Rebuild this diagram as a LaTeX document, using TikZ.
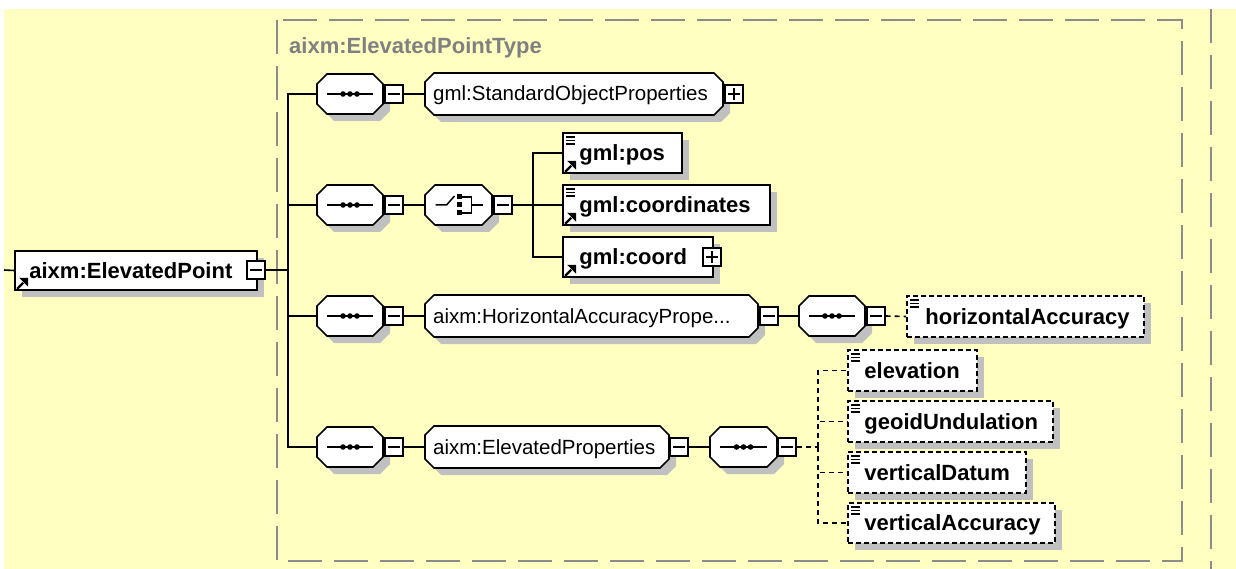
\documentclass[tikz,border=0pt]{standalone}
\usepackage{fontspec}
\setmainfont{Liberation Sans}
\usetikzlibrary{shadows}

\definecolor{bgyellow}{RGB}{255,255,194}
\definecolor{shadowgray}{RGB}{192,192,192}
\definecolor{framegray}{RGB}{140,140,140}
\definecolor{titlegray}{RGB}{128,128,128}

\tikzset{
  wire/.style={line width=1.6pt},
  optwire/.style={line width=1.6pt, dash pattern=on 5pt off 4pt},
  outline/.style={draw=black, line width=1.6pt, fill=white},
  boxshadow/.style={drop shadow={shadow xshift=7pt, shadow yshift=-7pt, fill=shadowgray, opacity=1}},
  elembox/.style={rectangle, outline, inner sep=0pt, boxshadow},
  optbox/.style={elembox, dash pattern=on 5pt off 3pt},
  anchorbox/.style={rectangle, inner sep=0pt, outer sep=0pt},
  btn/.style={rectangle, draw=black, fill=white, line width=1.4pt, inner sep=0pt, minimum size=18pt},
  btnmark/.style={line width=1.4pt},
  iconline/.style={line width=1.5pt},
  elemtext/.style={inner sep=0pt, font=\fontsize{22}{26}\selectfont\bfseries},
  grptext/.style={inner sep=0pt, font=\fontsize{20.5}{24}\selectfont},
  titletext/.style={inner sep=0pt, text=titlegray, font=\fontsize{22}{26}\selectfont\bfseries},
  frame/.style={draw=framegray, line width=1.6pt, dash pattern=on 34pt off 12pt},
}

% chamfered box (sequence, choice, group) with its shadow and a named node over it
\newcommand\octo[6]{%
  \fill[shadowgray, shift={(7,7)}] (#2,#3+#6) -- (#2+#6,#3) -- (#4-#6,#3) -- (#4,#3+#6)
      -- (#4,#5-#6) -- (#4-#6,#5) -- (#2+#6,#5) -- (#2,#5-#6) -- cycle;
  \draw[outline] (#2,#3+#6) -- (#2+#6,#3) -- (#4-#6,#3) -- (#4,#3+#6)
      -- (#4,#5-#6) -- (#4-#6,#5) -- (#2+#6,#5) -- (#2,#5-#6) -- cycle;
  \node[anchorbox, minimum width={#4-#2}, minimum height={#5-#3}] (#1) at ({(#2+#4)/2},{(#3+#5)/2}) {};
}
% element box
\newcommand\elem[6]{%
  \node[#6, minimum width={#4-#2}, minimum height={#5-#3}] (#1) at ({(#2+#4)/2},{(#3+#5)/2}) {};
}
\newcommand\elemlabel[3]{%
  \node[elemtext, anchor=base west] (#1-t) at ([shift={(#3,7.5)}]#1.west) {#2};
}
% expand / collapse buttons
\newcommand\minusbtn[3]{%
  \node[btn] (#1) at (#2,#3) {};
  \draw[btnmark] ([xshift=4pt]#1.west) -- ([xshift=-4pt]#1.east);
}
\newcommand\plusbtn[3]{%
  \minusbtn{#1}{#2}{#3}
  \draw[btnmark] ([yshift=4pt]#1.south) -- ([yshift=-4pt]#1.north);
}
% sequence compositor glyph
\newcommand\seqmark[1]{%
  \draw[iconline] ([xshift=10pt]#1.west) -- ([xshift=-10pt]#1.east);
  \foreach \k in {-7,0,7}
    \fill ([shift={(\k,0)}]#1.center) circle[radius=2.8pt];
}
% choice compositor glyph
\newcommand\choicemark[1]{%
  \draw[iconline] ([xshift=-23pt]#1.center) -- ([xshift=-12pt]#1.center) -- ([shift={(-4,-9)}]#1.center);
  \foreach \k in {-8,0,8}
    \fill ([shift={(-2,\k-2.5)}]#1.center) rectangle ([shift={(3,\k+2.5)}]#1.center);
  \draw[iconline] ([shift={(3,-8)}]#1.center) -- ([shift={(13,-8)}]#1.center)
      -- ([shift={(13,8)}]#1.center) -- ([shift={(3,8)}]#1.center);
  \draw[iconline] ([shift={(13,0)}]#1.center) -- ([shift={(24,0)}]#1.center);
}
% reference arrow (bottom left) and simple-content glyph (top left)
\newcommand\refmark[1]{%
  \draw[line width=2.4pt] ([shift={(3,-2)}]#1.south west) -- ([shift={(9,-8)}]#1.south west);
  \fill ([shift={(14,-13)}]#1.south west) -- ([shift={(5,-13)}]#1.south west)
      -- ([shift={(14,-4)}]#1.south west) -- cycle;
}
\newcommand\textmark[1]{%
  \foreach \k in {5,8.5,12}
    \draw[line width=1.5pt] ([shift={(4,\k)}]#1.north west) -- ([shift={(13,\k)}]#1.north west);
}

\begin{document}
\begin{tikzpicture}[x=1pt,y=-1pt]
\useasboundingbox (0,0) rectangle (1236,569);
\fill[bgyellow] (4,9) rectangle (1236,569);

% type frame
\draw[frame] (277,20) rectangle (1182,561);
\draw[frame] (1211,9) -- (1211,569);
\node[titletext, anchor=base west] (title) at (289,54) {aixm:ElevatedPointType};

% root element
\elem{root}{15}{251}{257}{290}{elembox}
\elemlabel{root}{aixm:ElevatedPoint}{15}
\refmark{root}
\minusbtn{rootb}{256}{270}
\coordinate (in) at (4,270);
\coordinate (fork) at (288,270);

% row 1
\octo{seq1}{317}{74}{383}{114}{10}
\seqmark{seq1}
\minusbtn{s1b}{394}{94}
\octo{sop}{425}{73}{723}{115}{9}
\node[grptext, anchor=base west] (sop-t) at ([shift={(8,7)}]sop.west) {gml:StandardObjectProperties};
\plusbtn{sopb}{734}{94}

% row 2
\octo{seq2}{317}{185}{383}{225}{10}
\seqmark{seq2}
\minusbtn{s2b}{394}{205}
\octo{ch}{425}{185}{492}{225}{10}
\choicemark{ch}
\minusbtn{chb}{503}{205}
\coordinate (cfork) at (533,205);
\elem{pos}{563}{133}{682}{173}{elembox}
\elemlabel{pos}{gml:pos}{17}
\textmark{pos}\refmark{pos}
\elem{coords}{563}{185}{770}{225}{elembox}
\elemlabel{coords}{gml:coordinates}{17}
\textmark{coords}\refmark{coords}
\elem{coord}{563}{237}{713}{277}{elembox}
\elemlabel{coord}{gml:coord}{17}
\refmark{coord}
\plusbtn{coordb}{712}{257}

% row 3
\octo{seq3}{317}{296}{383}{336}{10}
\seqmark{seq3}
\minusbtn{s3b}{394}{316}
\octo{hap}{425}{295}{758}{337}{9}
\node[grptext, anchor=base west] (hap-t) at ([shift={(8,7)}]hap.west) {aixm:HorizontalAccuracyPrope...};
\minusbtn{hapb}{769}{316}
\octo{seq4}{799}{296}{865}{336}{10}
\seqmark{seq4}
\minusbtn{s4b}{876}{316}
\elem{hacc}{907}{296}{1144}{337}{optbox}
\elemlabel{hacc}{horizontalAccuracy}{19}
\textmark{hacc}

% row 4
\octo{seq5}{317}{427}{383}{467}{10}
\seqmark{seq5}
\minusbtn{s5b}{394}{447}
\octo{elp}{425}{426}{669}{468}{9}
\node[grptext, anchor=base west] (elp-t) at ([shift={(8,7)}]elp.west) {aixm:ElevatedProperties};
\minusbtn{elpb}{679}{447}
\octo{seq6}{710}{427}{777}{467}{10}
\seqmark{seq6}
\minusbtn{s6b}{787}{447}
\coordinate (dfork) at (818,447);
\elem{elev}{848}{350}{977}{391}{optbox}
\elemlabel{elev}{elevation}{17}
\textmark{elev}
\elem{geoid}{848}{401}{1053}{442}{optbox}
\elemlabel{geoid}{geoidUndulation}{17}
\textmark{geoid}
\elem{vdat}{848}{452}{1026}{493}{optbox}
\elemlabel{vdat}{verticalDatum}{17}
\textmark{vdat}
\elem{vacc}{848}{503}{1055}{543}{optbox}
\elemlabel{vacc}{verticalAccuracy}{17}
\textmark{vacc}

% connectors
\draw[wire] (in) -- (root.west);
\draw[wire] (rootb.east) -- (fork);
\foreach \n in {seq1,seq2,seq3,seq5} \draw[wire] (fork) |- (\n.west);
\draw[wire] (seq1.east) -- (s1b.west);
\draw[wire] (s1b.east) -- (sop.west);
\draw[wire] (seq2.east) -- (s2b.west);
\draw[wire] (s2b.east) -- (ch.west);
\draw[wire] (chb.east) -- (cfork);
\foreach \n in {pos,coords,coord} \draw[wire] (cfork) |- (\n.west);
\draw[wire] (seq3.east) -- (s3b.west);
\draw[wire] (s3b.east) -- (hap.west);
\draw[wire] (hapb.east) -- (seq4.west);
\draw[optwire] (s4b.east) -- (hacc.west);
\draw[wire] (seq5.east) -- (s5b.west);
\draw[wire] (s5b.east) -- (elp.west);
\draw[wire] (elpb.east) -- (seq6.west);
\draw[optwire] (s6b.east) -- (dfork);
\foreach \n in {elev,geoid,vdat,vacc} \draw[optwire] (dfork) |- (\n.west);
\end{tikzpicture}
\end{document}
